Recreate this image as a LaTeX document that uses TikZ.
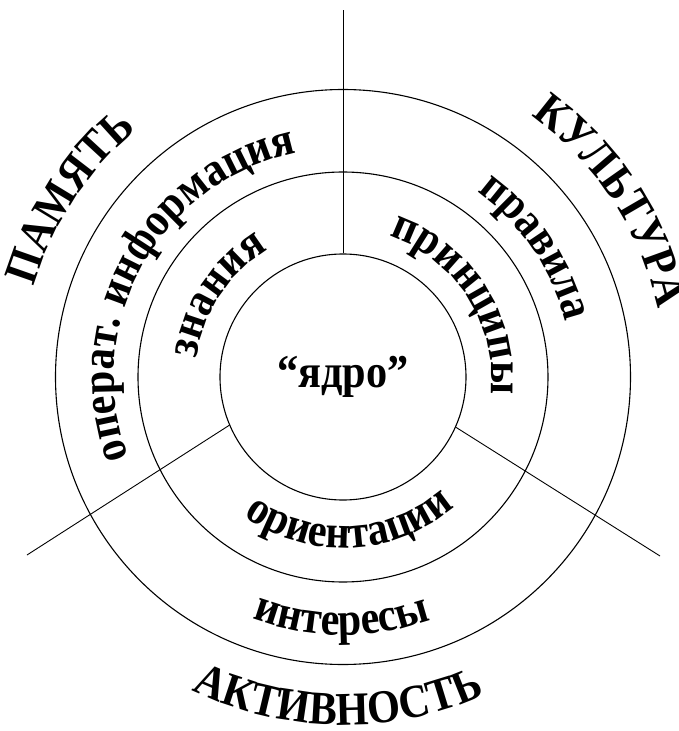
\documentclass[tikz,border=0pt]{standalone}
\usepackage{fontspec}
\setmainfont{Liberation Serif}
\newfontfamily\ringfam{Liberation Serif}[FakeStretch=0.9]
\usepackage{tikz}
\usetikzlibrary{positioning,decorations.text}

\newcommand{\ringfont}{\ringfam\fontsize{47}{50}\selectfont\bfseries}

\begin{document}
\begin{tikzpicture}[x=1pt, y=1pt,
    ring/.style={circle, draw, line width=1.1pt, inner sep=0pt},
    spoke/.style={line width=0.9pt},
    arclabel/.style={decorate, decoration={text along path, text align=center, text={|\ringfont|#1}}}]
    \useasboundingbox (-343,-354) rectangle (335,377);

    % Cerchi
    \node[ring, minimum size=575pt] (outer) at (0,0) {};
    \node[ring, minimum size=410pt] (mid) at (0,0) {};
    \node[ring, minimum size=246pt, font=\ringfam\fontsize{47}{50}\selectfont\bfseries] (core) at (0,0) {“ядро”};

    % Raggi
    \coordinate (ptop) at (0,367);
    \coordinate (pleft) at (-316,-178);
    \coordinate (pright) at (317,-179);
    \draw[spoke] (core.north) -- (ptop);
    \draw[spoke] (core.203.6) -- (pleft);
    \draw[spoke] (core.336.3) -- (pright);

    % Settore sinistro
    \path[arclabel=ПАМЯТЬ] (181.7:322) arc[start angle=181.7, end angle=111.7, radius=322];
    \path[arclabel={операт. информация}] (211:229) arc[start angle=211, end angle=91, radius=229];
    \path[arclabel=знания] (186.6:147) arc[start angle=186.6, end angle=106.6, radius=147];

    % Settore destro
    \path[arclabel=КУЛЬТУРА] (68.2:322) arc[start angle=68.2, end angle=-1.8, radius=322];
    \path[arclabel=правила] (64:229) arc[start angle=64, end angle=4, radius=229];
    \path[arclabel=принципы] (82.5:148) arc[start angle=82.5, end angle=-17.5, radius=148];

    % Settore inferiore
    \path[arclabel=ориентации] (217.7:171) arc[start angle=217.7, end angle=327.7, radius=171];
    \path[arclabel=интересы] (234.7:258) arc[start angle=234.7, end angle=304.7, radius=258];
    \path[arclabel=АКТИВНОСТЬ] (229.1:348) arc[start angle=229.1, end angle=309.1, radius=348];
\end{tikzpicture}
\end{document}
